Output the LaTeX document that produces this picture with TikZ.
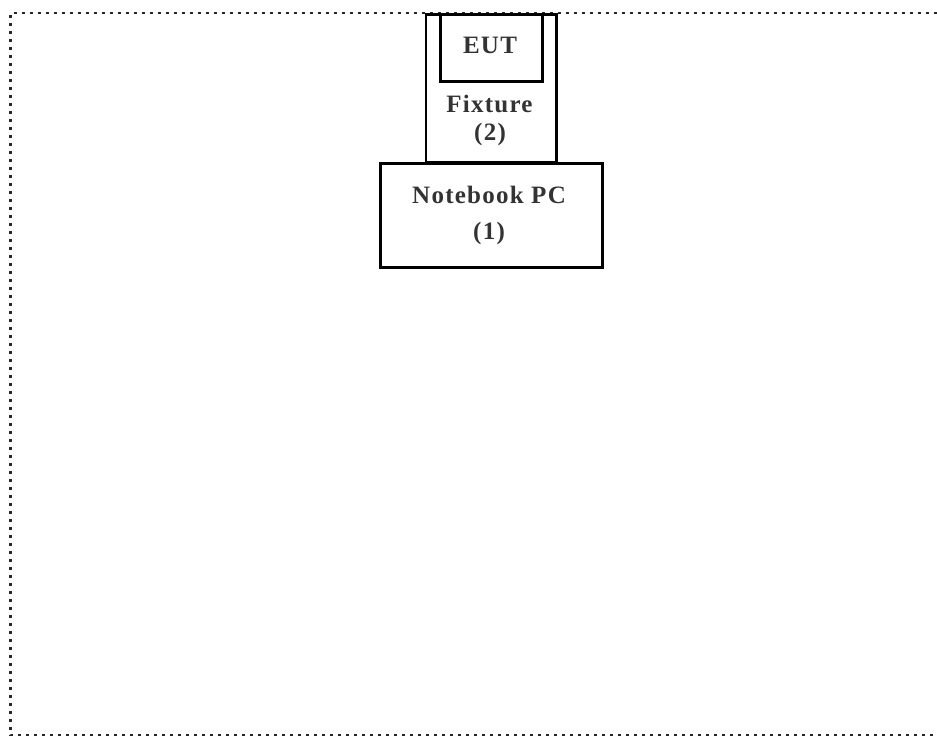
\documentclass[tikz,border=0pt]{standalone}
\usepackage{fontspec}
\setmainfont{Liberation Serif}[LetterSpace=5]
\begin{document}
\begin{tikzpicture}[x=1pt,y=-1pt,
  box/.style={draw=black, line width=2.8pt, inner sep=0pt, anchor=north west},
  lbl/.style={font=\fontsize{25}{28}\selectfont\bfseries, text=black!80, inner sep=0pt},
  frame/.style={draw=black!85, line width=2.4pt, dash pattern=on 3pt off 5pt}]
\useasboundingbox (0,0) rectangle (937,737);
\draw[frame] (945,13) -- (10.5,13) -- (10.5,735) -- (945,735);
\node[box, minimum width=130.5pt, minimum height=148pt] (fixture) at (424.5,13) {};
\node[box, minimum width=102pt, minimum height=67pt] (eut) at (439,13) {};
\node[box, minimum width=222pt, minimum height=104pt] (pc) at (379,162) {};
\node[lbl] (teut) at (490,45) {EUT};
\node[lbl] (tfix) at (489.5,104) {Fixture};
\node[lbl] (tfix2) at (490,134) {(2)};
\node[lbl] (tpc) at (489,195) {Notebook PC};
\node[lbl] (tpc2) at (489,233) {(1)};
\end{tikzpicture}
\end{document}
